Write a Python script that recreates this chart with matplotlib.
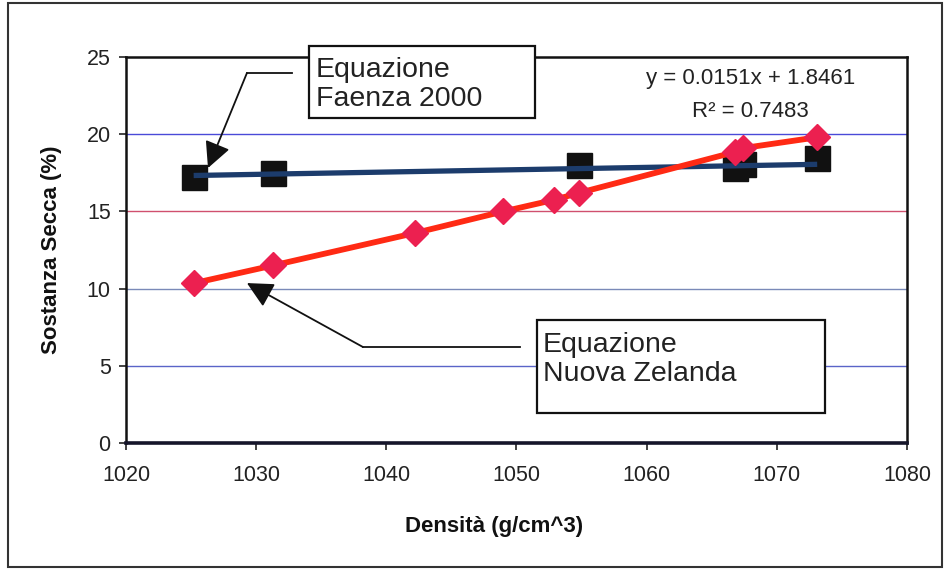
import matplotlib
matplotlib.use('Agg')
import matplotlib.pyplot as plt
from matplotlib.patches import Rectangle

plt.rcParams['font.family'] = ['Liberation Sans', 'DejaVu Sans']

# Campioni: densità del succo (g/cm^3) e sostanza secca (%)
dens_nz = [1025.2, 1031.3, 1042.2, 1049.0, 1052.9, 1054.8, 1066.8, 1067.4, 1073.1]
ss_nz = [10.35, 11.5, 13.6, 15.0, 15.75, 16.2, 18.85, 19.1, 19.8]

dens_fz = [1025.2, 1031.3, 1054.8, 1066.8, 1067.4, 1073.1]
ss_fz = [17.2, 17.5, 18.0, 17.8, 18.1, 18.45]

# retta di regressione (Faenza 2000)
slope = 0.0151
intercept = 1.8461
r2 = 0.7483

x_ticks = [1020, 1030, 1040, 1050, 1060, 1070, 1080]
y_ticks = [0, 5, 10, 15, 20, 25]
grid_colors = {5: '#5a64c8', 10: '#7a8ab8', 15: '#d0506e', 20: '#4a4ad8'}

fig = plt.figure(figsize=(9.45, 5.69), dpi=100)
ax = fig.add_axes([0.1333, 0.2214, 0.8265, 0.6784])

ax.set_xlim(1020, 1080)
ax.set_ylim(0, 25)

for yv, col in grid_colors.items():
    ax.axhline(yv, color=col, lw=1.0, zorder=1)

# Faenza: quadrati neri + retta di tendenza
ax.plot(dens_fz, ss_fz, ls='none', marker='s', ms=18, color='#111111', zorder=3)
fit_x = [min(dens_fz), max(dens_fz)]
fit_y = [slope * v + intercept for v in fit_x]
ax.plot(fit_x, fit_y, color='#1c3c6c', lw=3.8, zorder=4, solid_capstyle='butt')

# Nuova Zelanda: rombi rossi
ax.plot(dens_nz, ss_nz, color='#ff2a14', lw=4.2, zorder=5)
ax.plot(dens_nz, ss_nz, ls='none', marker='D', ms=13.5, color='#ec2050', zorder=6)

ax.set_xticks(x_ticks)
ax.set_yticks(y_ticks)
ax.tick_params(axis='x', direction='out', length=5, width=1.2, pad=11, labelsize=15.5, colors='#222222')
ax.tick_params(axis='y', direction='out', length=5, width=1.2, pad=6, labelsize=15.5, colors='#222222')
for s in ['left', 'right', 'top']:
    ax.spines[s].set_linewidth(1.8)
    ax.spines[s].set_color('#111111')
ax.spines['bottom'].set_linewidth(2.6)
ax.spines['bottom'].set_color('#15152a')

ax.set_xlabel('Densità (g/cm^3)', fontsize=16, fontweight='bold', color='#111111')
ax.xaxis.set_label_coords(0.471, -0.19)
ax.set_ylabel('Sostanza Secca (%)', fontsize=16, fontweight='bold', labelpad=18, color='#111111')

# equazione della retta
ax.text(1068.0, 23.64, f'y = {slope}x + {intercept}', fontsize=16, ha='center', va='center',
        color='#222222', zorder=7)
ax.text(1068.0, 21.44, f'R² = {r2}', fontsize=16, ha='center', va='center',
        color='#222222', zorder=7)

arrow_style = dict(arrowstyle='-|>,head_length=0.8,head_width=0.4', color='#111111', lw=1.3,
                   mutation_scale=20, shrinkA=0, shrinkB=0)

# riquadri di commento con frecce
ax.add_patch(Rectangle((1034.06, 21.05), 17.35, 4.66, facecolor='white', edgecolor='#111111',
                       lw=1.6, zorder=8, clip_on=False))
ax.text(1034.6, 23.25, 'Equazione\nFaenza 2000', fontsize=20.5, ha='left', va='center',
        color='#222222', zorder=9, linespacing=1.15)
ax.plot([1032.75, 1029.29], [23.96, 23.96], color='#111111', lw=1.3, zorder=7, clip_on=False)
ax.annotate('', xy=(1026.3, 17.81), xytext=(1029.29, 23.96), arrowprops=arrow_style, zorder=7)

ax.add_patch(Rectangle((1051.57, 1.94), 22.12, 6.03, facecolor='white', edgecolor='#111111',
                       lw=1.6, zorder=8, clip_on=False))
ax.text(1052.03, 5.4, 'Equazione\nNuova Zelanda', fontsize=20.5, ha='left', va='center',
        color='#222222', zorder=9, linespacing=1.15)
ax.plot([1050.26, 1038.2], [6.22, 6.22], color='#111111', lw=1.3, zorder=7)
ax.annotate('', xy=(1029.29, 10.36), xytext=(1038.2, 6.22), arrowprops=arrow_style, zorder=7)

# cornice esterna del grafico
fig.patches.append(Rectangle((8 / 945, 2 / 569), 934 / 945, 564 / 569, transform=fig.transFigure,
                             fill=False, edgecolor='#333333', lw=1.5))

fig.savefig('out.png', dpi=100)
